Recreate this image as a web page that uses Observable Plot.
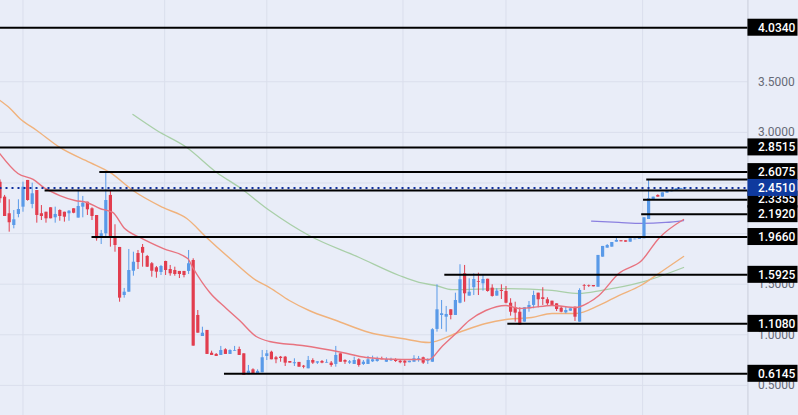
<!DOCTYPE html>
<html>
<head>
<meta charset="utf-8">
<script src="https://cdn.jsdelivr.net/npm/d3@7"></script>
<script src="https://cdn.jsdelivr.net/npm/@observablehq/plot@0.6"></script>
<style>
html,body{margin:0;padding:0;background:#e9edf8;overflow:hidden}
svg{display:block}
</style>
</head>
<body>
<div id="chart"></div>
<script>
const open = [
2.508,2.360,2.196,2.080,2.189,2.261,2.525,2.288,2.426,2.196,
2.211,2.255,2.156,2.228,2.211,2.196,2.245,2.153,2.261,2.310,
2.245,2.179,1.958,1.998,2.377,1.971,1.863,1.388,1.421,1.628,
1.803,1.863,1.774,1.702,1.662,1.616,1.724,1.645,1.635,1.626,
1.626,1.626,1.734,1.191,0.983,1.043,0.818,0.806,0.796,0.852,
0.806,0.838,0.855,0.812,0.605,0.654,0.615,0.625,0.786,0.828,
0.773,0.779,0.779,0.736,0.714,0.727,0.690,0.664,0.746,0.720,
0.736,0.720,0.720,0.707,0.812,0.746,0.720,0.707,0.753,0.707,
0.707,0.733,0.736,0.759,0.729,0.743,0.753,0.739,0.739,0.724,
0.729,0.746,0.773,0.739,0.729,1.053,1.191,1.174,1.247,1.191,
1.312,1.603,1.382,1.465,1.524,1.504,1.549,1.461,1.382,1.438,
1.428,1.312,1.267,1.223,1.125,1.257,1.290,1.411,1.366,1.346,
1.332,1.306,1.263,1.217,1.233,1.273,1.125,1.487,1.487,1.487,
1.470,1.767,1.856,1.866,1.915,1.929,1.929,1.915,1.939,1.942,
1.949,2.139,2.327,2.377,2.360,2.399,2.413,2.426,2.436,2.443];
const close = [
2.344,2.169,2.107,2.136,2.238,2.458,2.327,2.393,2.179,2.169,
2.146,2.146,2.189,2.169,2.162,2.221,2.201,2.268,2.300,2.235,
2.169,1.949,1.998,2.327,1.964,1.882,1.362,1.421,1.635,1.717,
1.714,1.806,1.668,1.628,1.619,1.675,1.635,1.603,1.596,1.596,
1.586,1.702,0.888,1.016,1.016,0.806,0.796,0.786,0.845,0.806,
0.845,0.845,0.796,0.598,0.640,0.615,0.638,0.773,0.812,0.753,
0.753,0.766,0.720,0.720,0.724,0.680,0.680,0.746,0.720,0.733,
0.720,0.727,0.697,0.796,0.729,0.729,0.733,0.746,0.697,0.729,
0.753,0.753,0.759,0.753,0.756,0.756,0.736,0.724,0.720,0.739,
0.763,0.763,0.720,0.746,1.050,1.247,1.208,1.201,1.191,1.339,
1.544,1.405,1.421,1.546,1.517,1.546,1.428,1.379,1.431,1.428,
1.312,1.223,1.214,1.095,1.267,1.290,1.388,1.346,1.349,1.306,
1.290,1.250,1.223,1.240,1.257,1.174,1.438,1.480,1.480,1.474,
1.784,1.873,1.882,1.912,1.932,1.919,1.915,1.949,1.945,1.955,
2.156,2.344,2.360,2.360,2.403,2.419,2.429,2.443,2.446,2.451];
const high = [
2.530,2.377,2.334,2.228,2.334,2.508,2.525,2.498,2.426,2.277,
2.211,2.255,2.261,2.235,2.211,2.228,2.245,2.426,2.367,2.310,
2.255,2.179,2.031,2.601,2.426,2.087,1.863,1.458,1.843,1.816,
1.833,1.892,1.784,1.714,1.675,1.685,1.727,1.685,1.668,1.626,
1.626,1.833,1.751,1.240,1.075,1.043,0.838,0.815,0.885,0.862,
0.852,0.885,0.878,0.812,0.697,0.664,0.654,0.845,0.845,0.838,
0.786,0.786,0.786,0.736,0.763,0.727,0.697,0.786,0.763,0.733,
0.746,0.753,0.736,0.885,0.812,0.753,0.746,0.779,0.763,0.746,
0.786,0.789,0.779,0.779,0.773,0.769,0.763,0.753,0.753,0.739,
0.793,0.786,0.779,0.763,1.060,1.494,1.339,1.280,1.247,1.411,
1.692,1.685,1.553,1.603,1.609,1.596,1.549,1.494,1.455,1.494,
1.477,1.356,1.322,1.267,1.267,1.329,1.431,1.411,1.465,1.366,
1.332,1.306,1.280,1.273,1.257,1.273,1.455,1.497,1.492,1.487,
1.784,1.873,1.892,1.912,1.951,1.929,1.929,1.949,1.945,1.955,
2.156,2.534,2.360,2.383,2.403,2.419,2.429,2.443,2.446,2.451];
const low = [
2.300,2.169,2.014,2.047,2.156,2.211,2.320,2.245,2.103,2.129,
2.103,2.146,2.103,2.122,2.113,2.122,2.196,2.153,2.156,2.179,
2.129,1.925,1.892,1.964,1.866,1.816,1.322,1.362,1.421,1.579,
1.645,1.668,1.665,1.569,1.559,1.586,1.586,1.579,1.579,1.556,
1.563,1.596,0.888,1.016,0.983,0.806,0.796,0.786,0.796,0.806,
0.806,0.838,0.796,0.598,0.605,0.615,0.615,0.625,0.746,0.753,
0.714,0.729,0.687,0.720,0.687,0.680,0.664,0.664,0.707,0.707,
0.714,0.720,0.680,0.680,0.729,0.707,0.707,0.707,0.680,0.697,
0.707,0.727,0.729,0.753,0.727,0.736,0.727,0.714,0.687,0.724,
0.729,0.729,0.707,0.707,0.729,1.026,1.053,1.026,1.148,1.191,
1.306,1.322,1.382,1.388,1.388,1.431,1.421,1.372,1.382,1.349,
1.306,1.184,1.125,1.095,1.125,1.223,1.257,1.267,1.290,1.290,
1.283,1.230,1.217,1.207,1.233,1.132,1.125,1.438,1.467,1.474,
1.470,1.767,1.856,1.866,1.915,1.919,1.915,1.915,1.939,1.942,
1.949,2.139,2.327,2.360,2.360,2.399,2.413,2.426,2.436,2.443];

const maFastT = [0,3.9,7.2,9.8,13,16.3,18.9,21.7,24.5,27.1,30.4,35.4,40.8,41.9,45.6,49.2,52.1,55.7,58.6,65.7,74.4,79.6,87.4,93.3,95.9,99.1,102,105.6,110,112.8,115.6,120,125.2,128,130.2,134.5,139.5,143.2,148.6];
const maFastV = [2.788,2.594,2.535,2.446,2.376,2.327,2.307,2.248,2.209,2.050,1.962,1.853,1.754,1.665,1.418,1.260,1.141,0.983,0.934,0.894,0.825,0.776,0.756,0.756,0.875,1.013,1.141,1.240,1.290,1.260,1.270,1.290,1.270,1.319,1.389,1.606,1.734,1.952,2.139];
const maMidT = [0,2.2,4.3,8,13,19.5,23.9,28.9,35.4,40.6,44.9,50.5,55.7,58.6,62.9,67.2,73.1,80.3,87.4,93.3,99.1,105.6,110,115.6,120,125.2,130.2,134.5,139.3,143.2,148.6];
const maMidV = [3.315,3.236,3.137,3.019,2.851,2.703,2.604,2.426,2.258,2.149,1.962,1.734,1.537,1.467,1.339,1.240,1.141,1.023,0.964,0.924,1.013,1.112,1.151,1.171,1.211,1.211,1.290,1.388,1.487,1.606,1.774];
const maSlowT = [28.9,34.1,40.6,47.1,52.1,58.6,67.2,78.1,86.8,91.1,94.8,98.3,110,120,125.8,130.8,139.3,148.6];
const maSlowV = [3.177,3.019,2.851,2.604,2.455,2.228,1.981,1.764,1.586,1.517,1.487,1.447,1.457,1.438,1.408,1.438,1.517,1.665];
const arcT = [128.6,134.5,139.5,144.7,148.6];
const arcV = [2.123,2.110,2.100,2.110,2.129];

const levelValues = [4.034,2.8515,2.6075,2.534,2.425,2.3355,2.192,1.966,1.5925,1.108,0.6145];
const levelStarts = [0,0,21.7,140.6,9.8,139.9,139.5,20,96.7,110.4,48.8];

const labelValues = [4.034,2.8515,2.3355,2.6075,2.192,1.966,1.5925,1.108,0.6145];
const labelTexts = ["4.0340","2.8515","2.3355","2.6075","2.1920","1.9660","1.5925","1.1080","0.6145"];
const lastValue = 2.451;
const lastText = "2.4510";

const gridValues = [0.5,1,1.5,2,2.5,3,3.5];
const yTicks = [0.5,1,1.5,3,3.5];
const yTickTexts = ["0.5000","1.0000","1.5000","3.0000","3.5000"];
const xGrid = [5,35.8,58,87.6,110,139.7];

const axisT = 162.6;       // right edge of the pane, in candle units
const endT = 173.48;       // right edge of the figure, in candle units
const boxHalf = 0.084;     // half a price label's height, in price units

const candles = open.map((o,i)=>({t:i,o,c:close[i],h:high[i],l:low[i]}));
const bull = "#5a9ae8", bear = "#e23d4e";
const colorOf = d => d.c >= d.o ? bull : bear;
const series = (ts,vs) => ts.map((t,i)=>({t,v:vs[i]}));
const levels = levelValues.map((v,i)=>({v,s:levelStarts[i]}));
const labels = labelValues.map((v,i)=>({v,s:labelTexts[i]}));
const ticks = yTicks.map((v,i)=>({v,s:yTickTexts[i]}));
const font = "Roboto,'Liberation Sans',Arial,sans-serif";

const fig = Plot.plot({
  width:798,height:415,
  marginTop:0,marginRight:0,marginBottom:0,marginLeft:0,
  x:{domain:[0,endT],range:[-0.5,797.5],axis:null},
  y:{domain:[4.303,0.2026],range:[0,415],axis:null},
  style:{background:"#e9edf8",fontFamily:font},
  marks:[
    Plot.ruleY(gridValues,{x1:0,x2:axisT,stroke:"#dadfec",strokeWidth:1}),
    Plot.ruleX(xGrid,{stroke:"#dadfec",strokeWidth:1}),
    Plot.ruleX([axisT],{stroke:"#c9ceda",strokeWidth:1}),
    Plot.line(series(maSlowT,maSlowV),{x:"t",y:"v",stroke:"#a9cfa8",strokeWidth:1.3,curve:"monotone-x"}),
    Plot.line(series(maMidT,maMidV),{x:"t",y:"v",stroke:"#f0b27c",strokeWidth:1.4,curve:"monotone-x"}),
    Plot.line(series(arcT,arcV),{x:"t",y:"v",stroke:"#8b80e0",strokeWidth:1.3,curve:"monotone-x"}),
    Plot.ruleX(candles,{x:"t",y1:"l",y2:"h",stroke:colorOf,strokeWidth:1}),
    Plot.ruleX(candles,{x:"t",y1:"o",y2:"c",stroke:colorOf,strokeWidth:3.2}),
    Plot.line(series(maFastT,maFastV),{x:"t",y:"v",stroke:"#e8737f",strokeWidth:1.4,curve:"monotone-x"}),
    Plot.ruleY(levels,{y:"v",x1:"s",x2:axisT,stroke:"#000",strokeWidth:2}),
    Plot.ruleY([lastValue],{x1:0,x2:axisT,stroke:"#0f2f9e",strokeWidth:2,strokeDasharray:"2,4"}),
    Plot.text(ticks,{x:axisT,y:"v",text:"s",dx:10,textAnchor:"start",fill:"#666a76",fontSize:12}),
    Plot.rect(labels,{x1:axisT,x2:endT,y1:d=>d.v+boxHalf,y2:d=>d.v-boxHalf,fill:"#000"}),
    Plot.text(labels,{x:axisT,y:"v",text:"s",dx:10,textAnchor:"start",fill:"#fff",fontSize:12,fontWeight:500}),
    Plot.rect([lastValue],{x1:axisT,x2:endT,y1:d=>d+boxHalf,y2:d=>d-boxHalf,fill:"#0f3a9e"}),
    Plot.text([lastText],{x:axisT,y:lastValue,text:d=>d,dx:10,textAnchor:"start",fill:"#fff",fontSize:12,fontWeight:500})
  ]
});
document.getElementById("chart").appendChild(fig);
</script>
</body>
</html>
